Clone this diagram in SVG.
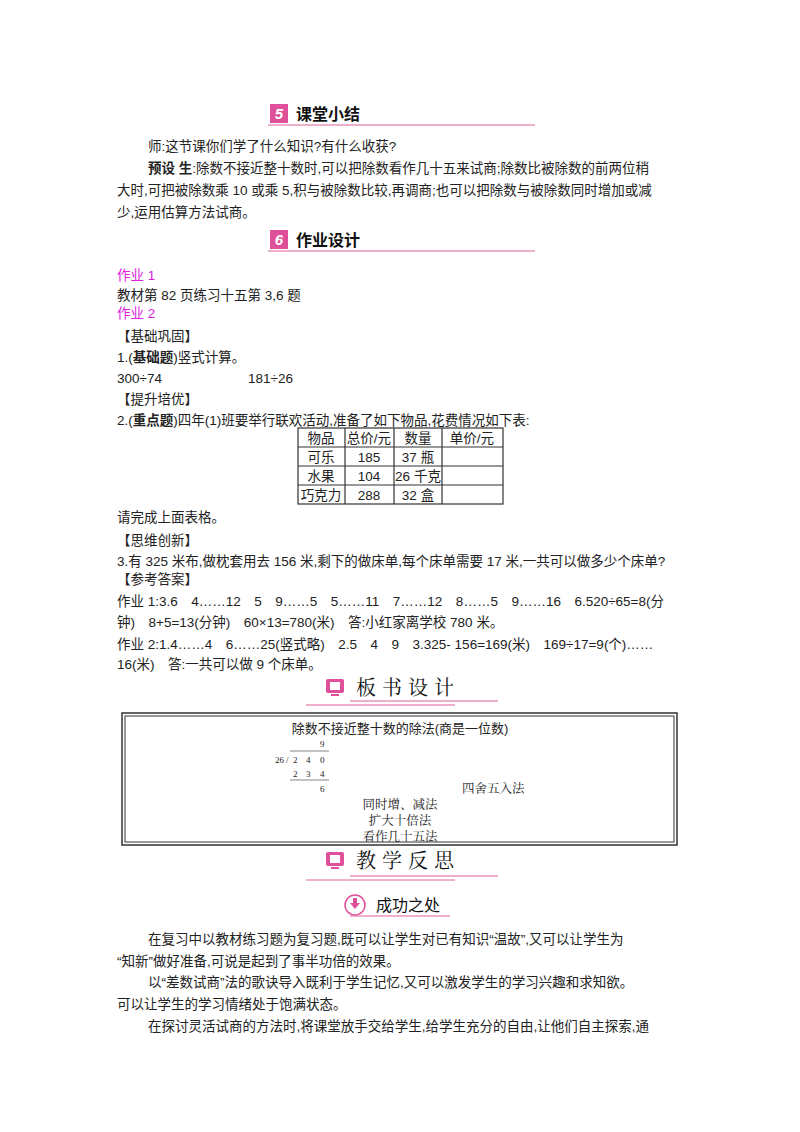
<svg xmlns="http://www.w3.org/2000/svg" width="800" height="1132" viewBox="0 0 800 1132">
<style>
text{font-family:"Liberation Sans","Noto Sans CJK SC",sans-serif;font-size:13.5px;fill:#222}
.h{font-size:16px;font-weight:bold;fill:#111}
.pk{fill:#e020e0}
.s{font-family:"Noto Serif CJK SC","Noto Sans CJK SC",serif;font-size:15px}
.bh{font-size:20px;letter-spacing:6px;fill:#111}
.m{font-family:"Liberation Serif",serif;font-size:9px}
.ul{stroke:#e0609a;stroke-width:1.2;fill:none}
.c{text-anchor:middle}
.b{font-size:12.5px}
</style>
<rect width="800" height="1132" fill="#fff"/>
<g id="h5">
<rect x="270" y="104" width="18" height="19" fill="#e0509a"/>
<text x="279" y="119" class="c" style="fill:#fff;font-weight:bold;font-style:italic;font-size:15px">5</text>
<text x="296" y="120" class="h">课堂小结</text>
<line x1="268" y1="125" x2="535" y2="125" class="ul"/>
</g>
<g id="p1">
<text x="148" y="151">师:这节课你们学了什么知识?有什么收获?</text>
<text x="148" y="173"><tspan font-weight="bold">预设 生</tspan>:除数不接近整十数时,可以把除数看作几十五来试商;除数比被除数的前两位稍</text>
<text x="117" y="195">大时,可把被除数乘 10 或乘 5,积与被除数比较,再调商;也可以把除数与被除数同时增加或减</text>
<text x="117" y="217">少,运用估算方法试商。</text>
</g>
<g id="h6">
<rect x="270" y="230" width="18" height="19" fill="#e0509a"/>
<text x="279" y="245" class="c" style="fill:#fff;font-weight:bold;font-style:italic;font-size:15px">6</text>
<text x="296" y="246" class="h">作业设计</text>
<line x1="268" y1="251" x2="535" y2="251" class="ul"/>
</g>
<g id="hw">
<text x="117" y="280" class="pk">作业 1</text>
<text x="117" y="300">教材第 82 页练习十五第 3,6 题</text>
<text x="117" y="318" class="pk">作业 2</text>
<text x="117" y="341">【基础巩固】</text>
<text x="117" y="362">1.(<tspan font-weight="bold">基础题</tspan>)竖式计算。</text>
<text x="117" y="383">300÷74</text><text x="248" y="383">181÷26</text>
<text x="117" y="404">【提升培优】</text>
<text x="117" y="425">2.(<tspan font-weight="bold">重点题</tspan>)四年(1)班要举行联欢活动,准备了如下物品,花费情况如下表:</text>
</g>
<g id="table" stroke="#333" stroke-width="1.2" fill="none">
<rect x="298" y="428" width="205" height="76"/>
<line x1="298" y1="447" x2="503" y2="447"/><line x1="298" y1="466" x2="503" y2="466"/><line x1="298" y1="485" x2="503" y2="485"/>
<line x1="345" y1="428" x2="345" y2="504"/><line x1="394" y1="428" x2="394" y2="504"/><line x1="442" y1="428" x2="442" y2="504"/>
</g>
<g id="tabletext">
<text x="321" y="443" class="c">物品</text><text x="369" y="443" class="c">总价/元</text><text x="418" y="443" class="c">数量</text><text x="472" y="443" class="c">单价/元</text>
<text x="321" y="462" class="c">可乐</text><text x="369" y="462" class="c">185</text><text x="418" y="462" class="c">37 瓶</text>
<text x="321" y="481" class="c">水果</text><text x="369" y="481" class="c">104</text><text x="418" y="481" class="c">26 千克</text>
<text x="321" y="500" class="c">巧克力</text><text x="369" y="500" class="c">288</text><text x="418" y="500" class="c">32 盒</text>
</g>
<g id="hw2">
<text x="117" y="522">请完成上面表格。</text>
<text x="117" y="545">【思维创新】</text>
<text x="117" y="566">3.有 325 米布,做枕套用去 156 米,剩下的做床单,每个床单需要 17 米,一共可以做多少个床单?</text>
<text x="117" y="584">【参考答案】</text>
<text x="117" y="606">作业 1:3.6　4……12　5　9……5　5……11　7……12　8……5　9……16　6.520÷65=8(分</text>
<text x="117" y="627">钟)　8+5=13(分钟)　60×13=780(米)　答:小红家离学校 780 米。</text>
<text x="117" y="649">作业 2:1.4……4　6……25(竖式略)　2.5　4　9　3.325- 156=169(米)　169÷17=9(个)……</text>
<text x="117" y="669">16(米)　答:一共可以做 9 个床单。</text>
</g>
<g id="hboard">
<rect x="326" y="679" width="18" height="14" rx="2" fill="#e0509a"/><rect x="330" y="682" width="10" height="8" fill="#fff"/><rect x="331" y="694" width="8" height="2" fill="#e0509a"/>
<text x="356" y="695" class="s bh">板书设计</text>
<line x1="306" y1="705" x2="455" y2="705" class="ul"/><line x1="350" y1="701" x2="498" y2="701" class="ul"/>
</g>
<g id="board">
<rect x="122" y="713" width="555" height="132" fill="none" stroke="#333" stroke-width="1.5"/>
<rect x="125" y="716" width="549" height="126" fill="none" stroke="#333" stroke-width="1"/>
<text x="400" y="733" class="c" style="font-size:13px">除数不接近整十数的除法(商是一位数)</text>
<text x="320" y="747" class="m">9</text>
<line x1="290" y1="751" x2="329" y2="751" stroke="#333" stroke-width="0.6"/>
<text x="275" y="763" class="m">26</text><text x="286" y="763" class="m">/</text>
<text x="293" y="763" class="m">2</text><text x="306" y="763" class="m">4</text><text x="320" y="763" class="m">0</text>
<text x="293" y="777" class="m">2</text><text x="306" y="777" class="m">3</text><text x="320" y="777" class="m">4</text>
<line x1="290" y1="780" x2="329" y2="780" stroke="#333" stroke-width="0.6"/>
<text x="320" y="792" class="m">6</text>
<text x="462" y="793" class="s b">四舍五入法</text>
<text x="400" y="809" class="s c b">同时增、减法</text>
<text x="400" y="825" class="s c b">扩大十倍法</text>
<text x="400" y="841" class="s c b">看作几十五法</text>
</g>
<g id="hreflect">
<rect x="326" y="852" width="18" height="14" rx="2" fill="#e0509a"/><rect x="330" y="855" width="10" height="8" fill="#fff"/><rect x="331" y="867" width="8" height="2" fill="#e0509a"/>
<text x="356" y="868" class="s bh">教学反思</text>
<line x1="306" y1="880" x2="455" y2="880" class="ul"/><line x1="350" y1="876" x2="498" y2="876" class="ul"/>
</g>
<g id="hsuccess">
<circle cx="355" cy="905" r="10" fill="#fff" stroke="#e0509a" stroke-width="1.5"/>
<path d="M353 898h4v5h3l-5 6-5-6h3z" fill="#e0509a"/>
<text x="376" y="911" class="h" style="font-weight:normal">成功之处</text>
<line x1="350" y1="916" x2="450" y2="916" class="ul"/>
</g>
<g id="p2">
<text x="148" y="944">在复习中以教材练习题为复习题,既可以让学生对已有知识“温故”,又可以让学生为</text>
<text x="117" y="966">“知新”做好准备,可说是起到了事半功倍的效果。</text>
<text x="148" y="987">以“差数试商”法的歌诀导入既利于学生记忆,又可以激发学生的学习兴趣和求知欲。</text>
<text x="117" y="1009">可以让学生的学习情绪处于饱满状态。</text>
<text x="148" y="1031">在探讨灵活试商的方法时,将课堂放手交给学生,给学生充分的自由,让他们自主探索,通</text>
</g>
</svg>
